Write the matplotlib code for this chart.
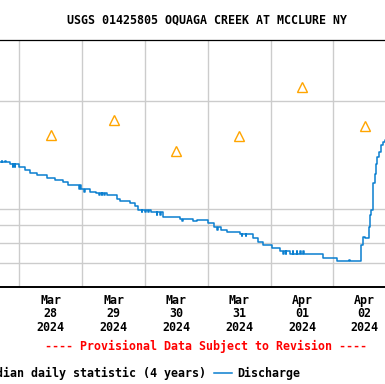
import matplotlib
matplotlib.use('Agg')
import matplotlib.pyplot as plt
import matplotlib.dates as mdates
from matplotlib.lines import Line2D
import pandas as pd

# discharge, ft3/s, as step changes (15-min gage readings)
flow_times = [
    "2024-03-27 16:00", "2024-03-27 17:15", "2024-03-27 17:30", "2024-03-27 18:30",
    "2024-03-27 18:45", "2024-03-27 20:30", "2024-03-27 21:30", "2024-03-27 21:45",
    "2024-03-27 22:15", "2024-03-27 22:30", "2024-03-27 23:45", "2024-03-28 02:15",
    "2024-03-28 04:00", "2024-03-28 06:45", "2024-03-28 10:30", "2024-03-28 13:45",
    "2024-03-28 16:45", "2024-03-28 18:45", "2024-03-28 23:00", "2024-03-28 23:15",
    "2024-03-28 23:45", "2024-03-29 00:45", "2024-03-29 01:00", "2024-03-29 03:00",
    "2024-03-29 05:30", "2024-03-29 06:30", "2024-03-29 06:45", "2024-03-29 07:30",
    "2024-03-29 07:45", "2024-03-29 08:30", "2024-03-29 08:45", "2024-03-29 09:30",
    "2024-03-29 13:15", "2024-03-29 14:30", "2024-03-29 18:15", "2024-03-29 20:15",
    "2024-03-29 21:30", "2024-03-29 22:45", "2024-03-29 23:00", "2024-03-30 00:00",
    "2024-03-30 00:15", "2024-03-30 01:15", "2024-03-30 01:30", "2024-03-30 02:30",
    "2024-03-30 04:30", "2024-03-30 04:45", "2024-03-30 05:45", "2024-03-30 06:00",
    "2024-03-30 07:00", "2024-03-30 13:30", "2024-03-30 14:15", "2024-03-30 14:30",
    "2024-03-30 18:30", "2024-03-30 19:45", "2024-03-31 00:15", "2024-03-31 02:15",
    "2024-03-31 03:30", "2024-03-31 03:45", "2024-03-31 05:15", "2024-03-31 07:15",
    "2024-03-31 12:15", "2024-03-31 13:00", "2024-03-31 13:15", "2024-03-31 14:30",
    "2024-03-31 14:45", "2024-03-31 17:30", "2024-03-31 19:15", "2024-03-31 21:15",
    "2024-04-01 00:30", "2024-04-01 03:45", "2024-04-01 04:45", "2024-04-01 05:00",
    "2024-04-01 05:45", "2024-04-01 06:00", "2024-04-01 07:30", "2024-04-01 08:30",
    "2024-04-01 08:45", "2024-04-01 10:00", "2024-04-01 10:15", "2024-04-01 11:15",
    "2024-04-01 11:30", "2024-04-01 12:30", "2024-04-01 12:45", "2024-04-01 20:15",
    "2024-04-02 01:15", "2024-04-02 06:00", "2024-04-02 06:15", "2024-04-02 10:45",
    "2024-04-02 11:15", "2024-04-02 12:00", "2024-04-02 13:30", "2024-04-02 14:00",
    "2024-04-02 14:30", "2024-04-02 15:00", "2024-04-02 15:15", "2024-04-02 15:45",
    "2024-04-02 16:15", "2024-04-02 16:45", "2024-04-02 17:30", "2024-04-02 18:15",
    "2024-04-02 19:00", "2024-04-02 19:45", "2024-04-02 20:30",
]
flow_values = [
    127.3, 128.5, 127.3, 128.5,
    127.3, 125.5, 123.0, 125.5,
    123.0, 125.5, 122.4, 120.0,
    117.6, 115.9, 112.8, 111.4,
    109.5, 107.6, 104.0, 107.6,
    104.0, 101.9, 104.0, 101.9,
    100.9, 99.4, 100.9, 99.4,
    100.9, 99.4, 100.9, 99.4,
    97.2, 95.3, 94.1, 91.9,
    89.2, 87.8, 89.2, 87.8,
    89.2, 87.8, 89.2, 87.8,
    86.3, 87.8, 86.3, 87.8,
    84.8, 83.2, 82.0, 83.2,
    82.0, 82.6, 80.8, 78.4,
    77.2, 78.4, 77.2, 75.7,
    74.6, 73.5, 74.6, 73.5,
    74.6, 72.3, 70.2, 68.8,
    67.3, 65.9, 64.3, 65.9,
    64.3, 65.9, 64.3, 65.9,
    64.3, 65.9, 64.3, 65.9,
    64.3, 65.9, 64.3, 62.4,
    60.9, 61.8, 60.9, 68.8,
    73.1, 72.3, 78.7, 85.9,
    89.2, 97.4, 108.7, 117.0,
    126.0, 132.4, 137.5, 144.5,
    148.0, 150.0, 151.0,
]

# median daily statistic (4 years)
median_days = ["2024-03-28 12:00", "2024-03-29 12:00", "2024-03-30 12:00",
               "2024-03-31 12:00", "2024-04-01 12:00", "2024-04-02 12:00"]
median_values = [155.6, 174.0, 138.7, 155.0, 222.0, 166.0]

y_grid = [60, 70, 80, 90, 200]

FONT = 'DejaVu Sans Mono'
BLUE = '#0a7fd0'
ORANGE = '#ffa500'

W, H = 385, 384
fig = plt.figure(figsize=(W / 100, H / 100), dpi=100)

# axes reaches past both figure edges (the picture is a crop)
x0, x1 = -43.5, 396.1
yb, yt = 286.7, 39.7
ax = fig.add_axes([x0 / W, 1 - yb / H, (x1 - x0) / W, (yb - yt) / H])

t = pd.to_datetime(flow_times)
days = pd.to_datetime(median_days)
ax.plot(t, flow_values, drawstyle='steps-post', color=BLUE, lw=1.1, zorder=3)
ax.plot(days, median_values, ls='none', marker='^',
        ms=7, mfc='none', mec=ORANGE, mew=1.0, zorder=4)

ax.set_yscale('log')
ax.set_ylim(50.5, 316)
ax.set_yticks(y_grid)
ax.yaxis.set_minor_locator(matplotlib.ticker.NullLocator())
ax.set_yticklabels([])
ax.set_xlim(pd.Timestamp("2024-03-27"), pd.Timestamp("2024-04-03"))

ax.xaxis.set_major_locator(mdates.DayLocator())
ax.xaxis.set_major_formatter(matplotlib.ticker.NullFormatter())
ax.xaxis.set_minor_locator(matplotlib.ticker.FixedLocator(mdates.date2num(days)))
ax.xaxis.set_minor_formatter(mdates.DateFormatter('%b\n%d\n%Y'))
ax.tick_params(axis='both', which='both', length=0)
ax.tick_params(axis='x', which='minor', pad=5)
for lab in ax.xaxis.get_minorticklabels():
    lab.set_fontfamily(FONT)
    lab.set_fontweight('bold')
    lab.set_fontsize(8.4)
    lab.set_linespacing(1.05)

ax.grid(True, which='major', color='#cccccc', lw=1.0)
ax.set_axisbelow(True)
for s in ['left', 'right']:
    ax.spines[s].set_visible(False)
ax.spines['top'].set_linewidth(0.9)
ax.spines['bottom'].set_linewidth(1.4)

txt = dict(family=FONT, weight='bold', size=8.4)
fig.text(207 / W, 1 - 20 / H, "USGS 01425805 OQUAGA CREEK AT MCCLURE NY",
         ha='center', va='center', **txt)
fig.text(206 / W, 1 - 346 / H, "---- Provisional Data Subject to Revision ----",
         ha='center', va='center', color='red', **txt)
fig.text(206 / W, 1 - 373 / H, "Median daily statistic (4 years)",
         ha='right', va='center', **txt)
fig.add_artist(Line2D([214 / W, 231.5 / W], [1 - 372.7 / H] * 2,
                      color=BLUE, lw=1.1, transform=fig.transFigure))
fig.text(237.7 / W, 1 - 373 / H, "Discharge", ha='left', va='center', **txt)

fig.savefig('out.png', dpi=100)
